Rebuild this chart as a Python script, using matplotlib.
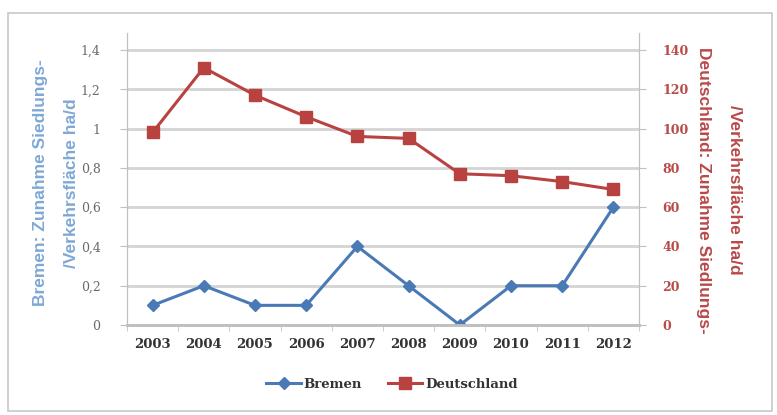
import numpy as np
import matplotlib
matplotlib.use("Agg")
import matplotlib.pyplot as plt
from matplotlib.patches import Rectangle

# data
jahre = ["2003", "2004", "2005", "2006", "2007", "2008", "2009", "2010", "2011", "2012"]
bremen = [0.1, 0.2, 0.1, 0.1, 0.4, 0.2, 0.0, 0.2, 0.2, 0.6]
deutschland = [98, 131, 117, 106, 96, 95, 77, 76, 73, 69]
links_ticks = [0, 0.2, 0.4, 0.6, 0.8, 1.0, 1.2, 1.4]
links_labels = ["0", "0,2", "0,4", "0,6", "0,8", "1", "1,2", "1,4"]
rechts_ticks = [0, 20, 40, 60, 80, 100, 120, 140]

blau = "#4a7ab5"
rot = "#b8423f"
label_blau = "#7fa8d6"
label_rot = "#b84a48"
grid_col = "#d4d4d4"
tick_col = "#6a6a6a"
serif = "DejaVu Serif"
sans = "Liberation Sans"

fig = plt.figure(figsize=(7.77, 4.15), dpi=100)
fig.patches.append(Rectangle((8 / 777, 4 / 415), 764 / 777, 398 / 415,
                             transform=fig.transFigure, fill=False,
                             edgecolor="#c8c8c8", linewidth=1.2))

ax = fig.add_axes([127 / 777, 90 / 415, 512 / 777, 292 / 415])
ax2 = ax.twinx()

x = np.arange(len(jahre))
ymax = 1.4 * 292 / 275

# gridlines
for t in links_ticks[1:]:
    ax.axhline(t, color=grid_col, linewidth=2, zorder=0)

l1, = ax.plot(x, bremen, color=blau, linewidth=2.2, marker="D", markersize=6,
              markerfacecolor=blau, markeredgecolor=blau, zorder=3)
l2, = ax2.plot(x, deutschland, color=rot, linewidth=2.2, marker="s", markersize=8.5,
               markerfacecolor=rot, markeredgecolor=rot, zorder=3)

ax.set_xlim(-0.5, len(jahre) - 0.5)
ax.set_ylim(0, ymax)
ax2.set_ylim(0, 140 * 292 / 275)

ax.set_xticks(x)
ax.set_xticklabels(jahre, fontfamily=serif, fontweight="bold", fontsize=9.5, color="#333333")
ax.set_xticks(np.arange(-0.5, len(jahre), 1), minor=True)
ax.tick_params(axis="x", which="major", length=0, pad=9)
ax.tick_params(axis="x", which="minor", length=4, color="#c0c0c0", direction="out")

ax.set_yticks(links_ticks)
ax.set_yticklabels(links_labels, fontfamily=serif, fontsize=9, color=tick_col)
ax.tick_params(axis="y", length=5, color="#c0c0c0", pad=14)

ax2.set_yticks(rechts_ticks)
ax2.set_yticklabels([str(v) for v in rechts_ticks], fontfamily=serif,
                    fontweight="bold", fontsize=9, color=label_rot)
ax2.tick_params(axis="y", length=5, color="#c0c0c0", pad=12)

for a in (ax, ax2):
    a.spines["top"].set_visible(False)
    a.spines["left"].set_color("#c0c0c0")
    a.spines["right"].set_color("#c0c0c0")
    a.spines["bottom"].set_color("#c0c0c0")
    a.spines["bottom"].set_linewidth(2)

# axis titles, two lines each
fig.text(41 / 777, 1 - 183 / 415, "Bremen: Zunahme Siedlungs-", rotation=90,
         ha="center", va="center", fontfamily=sans, fontweight="bold",
         fontsize=12.5, color=label_blau)
fig.text(71 / 777, 1 - 183 / 415, "/Verkehrsfläche ha/d", rotation=90,
         ha="center", va="center", fontfamily=sans, fontweight="bold",
         fontsize=12.5, color=label_blau)
fig.text(704 / 777, 1 - 190 / 415, "Deutschland: Zunahme Siedlungs-", rotation=270,
         ha="center", va="center", fontfamily=sans, fontweight="bold",
         fontsize=12.5, color=label_rot)
fig.text(734 / 777, 1 - 190 / 415, "/Verkehrsfläche ha/d", rotation=270,
         ha="center", va="center", fontfamily=sans, fontweight="bold",
         fontsize=12.5, color=label_rot)

leg = fig.legend([l1, l2], ["Bremen", "Deutschland"], loc="center",
                 bbox_to_anchor=(392 / 777, 1 - 384 / 415), ncol=2, frameon=False,
                 handlelength=2.6, columnspacing=2.0, handletextpad=0.2,
                 prop={"family": serif, "weight": "bold", "size": 9.5})
for t in leg.get_texts():
    t.set_color("#333333")

fig.savefig("out.png", dpi=100)
